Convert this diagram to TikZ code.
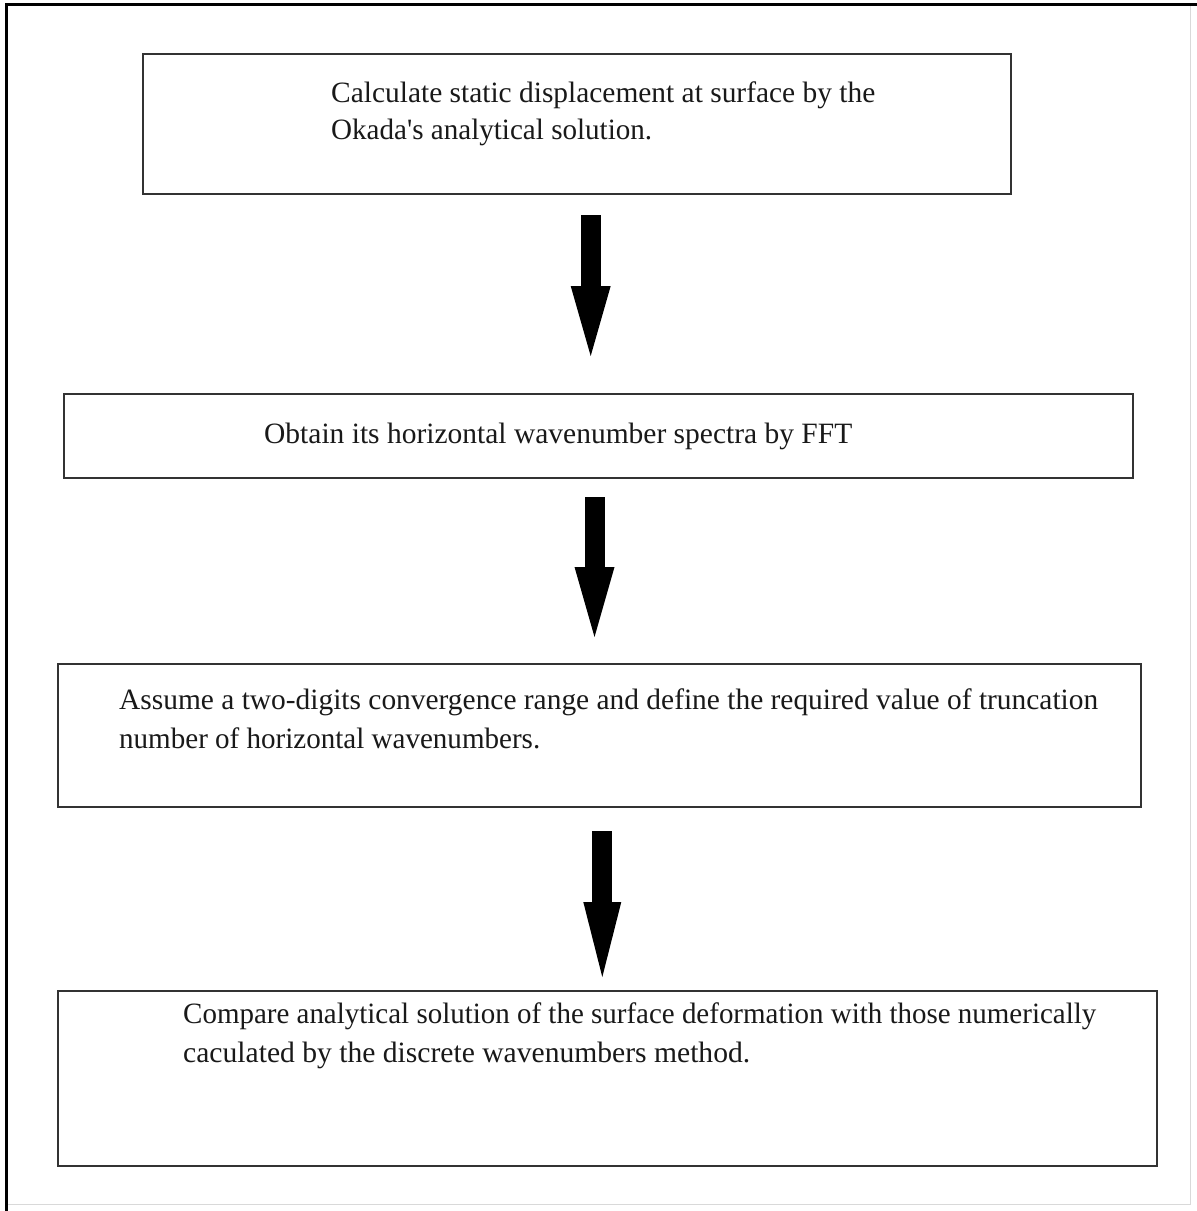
\documentclass[tikz,border=0pt]{standalone}
\usepackage{fontspec}
\setmainfont{Liberation Serif}
\usetikzlibrary{arrows.meta}
\newcommand{\fitw}[2]{\resizebox{#1pt}{\height}{#2}}
\begin{document}
\begin{tikzpicture}[x=1pt,y=-1pt,
  box/.style={draw=black!80, line width=2pt, inner sep=0pt, anchor=north west},
  txt/.style={inner sep=0pt, anchor=base west, font=\fontsize{29.5}{33}\selectfont, text=black!90},
  fat/.style={line width=20pt, -{Triangle[width=40pt,length=70pt,line width=0pt]}}]
\useasboundingbox (0,0) rectangle (1197,1211);
\fill[white] (0,0) rectangle (1197,1211);
% outer frame
\draw[black!15, line width=1pt] (1190,4) -- (1190,1204) -- (6,1204);
\draw[black, line width=3pt] (6,1211) -- (6,4) -- (1197,4);
% boxes
\node[box, minimum width=868pt, minimum height=140pt] (b1) at (142,53) {};
\node[box, minimum width=1069pt, minimum height=84pt] (b2) at (63,393) {};
\node[box, minimum width=1083pt, minimum height=143pt] (b3) at (57,663) {};
\node[box, minimum width=1099pt, minimum height=175pt] (b4) at (57,990) {};
% texts
\node[txt] (t1a) at (331,102) {\fitw{544}{Calculate static displacement at surface by the}};
\node[txt] (t1b) at (331,139) {\fitw{321}{Okada\textquotesingle s analytical solution.}};
\node[txt] (t2) at (264,443) {\fitw{588}{Obtain its horizontal wavenumber spectra by FFT}};
\node[txt] (t3a) at (119,709) {\fitw{979}{Assume a two-digits convergence range and define the required value of truncation}};
\node[txt] (t3b) at (119,748) {\fitw{421}{number of horizontal wavenumbers.}};
\node[txt] (t4a) at (183,1023) {\fitw{913}{Compare analytical solution of the surface deformation with those numerically}};
\node[txt] (t4b) at (183,1062) {\fitw{567}{caculated by the discrete wavenumbers method.}};
% arrows
\coordinate (a1s) at (590.7,215);
\coordinate (a1e) at (590.7,356);
\coordinate (a2s) at (594.5,497);
\coordinate (a2e) at (594.5,637);
\coordinate (a3s) at (602.3,831);
\coordinate (a3e) at (602.3,977);
\draw[fat] (a1s) -- (a1e);
\draw[fat] (a2s) -- (a2e);
\draw[fat, -{Triangle[width=38pt,length=75pt,line width=0pt]}] (a3s) -- (a3e);
\end{tikzpicture}
\end{document}
